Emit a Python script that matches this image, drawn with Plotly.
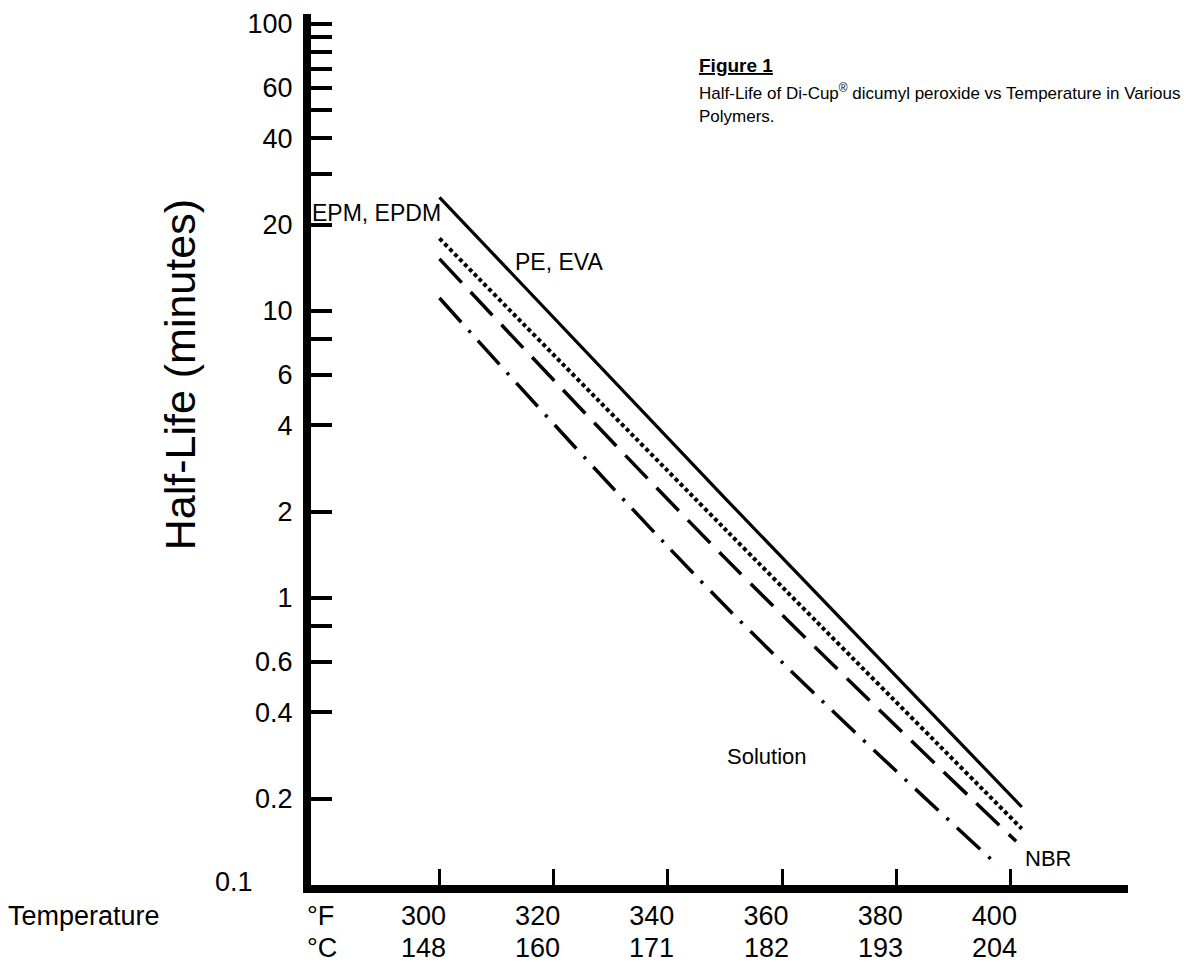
import plotly.graph_objects as go

# ---- data ----
temp_f_ticks = [300, 320, 340, 360, 380, 400]
temp_c_ticks = [148, 160, 171, 182, 193, 204]

y_label_vals = [0.2, 0.4, 0.6, 1, 2, 4, 6, 10, 20, 40, 60, 100]
y_label_text = ["0.2", "0.4", "0.6", "1", "2", "4", "6", "10", "20", "40", "60", "100"]
y_unlabeled_ticks = [0.8, 8, 30, 50, 70, 80, 90]

pe_eva_temp = [300, 350, 402]
pe_eva_life = [24.9, 2.23, 0.187]

epdm_temp = [300, 350, 402]
epdm_life = [17.9, 1.74, 0.157]

nbr_temp = [300, 350, 401]
nbr_life = [15.2, 1.38, 0.142]

solution_temp = [300, 350, 398]
solution_life = [11.1, 0.94, 0.116]

x_range = [277.5, 420.6]
y_range_log = [-1, 2.035]

FONT = "Arial, Liberation Sans, sans-serif"
TICK_SIZE = 27

fig = go.Figure()
line_specs = [
    (pe_eva_temp, pe_eva_life, "solid", 3.2),
    (epdm_temp, epdm_life, "4px,3px", 4),
    (nbr_temp, nbr_life, "32px,13px", 3.5),
    (solution_temp, solution_life, "32px,11px,3px,11px", 3.5),
]
for xs, ys, dash, w in line_specs:
    fig.add_trace(go.Scatter(x=xs, y=ys, mode="lines",
                             line=dict(color="black", width=w, dash=dash, shape="spline",
                                       smoothing=1.0),
                             showlegend=False, hoverinfo="skip"))

fig.update_xaxes(
    range=x_range, showline=True, linewidth=8, linecolor="black",
    ticks="inside", ticklen=16, tickwidth=3, tickcolor="black",
    tickvals=temp_f_ticks, ticktext=[str(f) for f in temp_f_ticks],
    minor=dict(tickvals=[x_range[1]], ticks="inside", ticklen=16, tickwidth=3,
               tickcolor="black", showgrid=False),
    ticklabelshift=-16, ticklabelstandoff=0,
    tickfont=dict(family=FONT, size=TICK_SIZE, color="black"),
    showgrid=False, zeroline=False, automargin=False,
)
fig.update_yaxes(
    type="log", range=y_range_log, showline=True, linewidth=8, linecolor="black",
    ticks="inside", ticklen=21, tickwidth=4, tickcolor="black",
    tickvals=y_label_vals, ticktext=y_label_text, ticklabelstandoff=5,
    minor=dict(tickvals=y_unlabeled_ticks, ticks="inside", ticklen=21, tickwidth=4,
               tickcolor="black", showgrid=False),
    tickfont=dict(family=FONT, size=TICK_SIZE, color="black"),
    showgrid=False, zeroline=False, automargin=False,
)

annotations = [
    dict(text="Half-Life (minutes)", x=-0.16, y=0.5855, xref="paper", yref="paper",
         xanchor="center", yanchor="middle",
         textangle=-90, font=dict(size=43), showarrow=False),
    dict(text="0.1", x=-0.068, y=0.0034, xref="paper", yref="paper", xanchor="right",
         yanchor="middle", font=dict(size=TICK_SIZE), showarrow=False),
    dict(text="Temperature", x=-0.3733, y=-0.0356, xref="paper", yref="paper", xanchor="left",
         yanchor="middle", font=dict(size=TICK_SIZE), showarrow=False),
    dict(text="°F", x=-0.0073, y=-0.0356, xref="paper", yref="paper", xanchor="left",
         yanchor="middle", font=dict(size=TICK_SIZE), showarrow=False),
    dict(text="°C", x=-0.0073, y=-0.0723, xref="paper", yref="paper", xanchor="left",
         yanchor="middle", font=dict(size=TICK_SIZE), showarrow=False),
    dict(text="<b><u>Figure 1</u></b>", x=0.4725, y=0.9403, xref="paper", yref="paper",
         xanchor="left", yanchor="middle", font=dict(size=19), showarrow=False),
    dict(text="Half-Life of Di-Cup<sup>®</sup> dicumyl peroxide vs Temperature in Various",
         x=0.4725, y=0.9105, xref="paper", yref="paper", xanchor="left", yanchor="middle",
         font=dict(size=17), showarrow=False),
    dict(text="Polymers.",
         x=0.4725, y=0.8818, xref="paper", yref="paper", xanchor="left", yanchor="middle",
         font=dict(size=17), showarrow=False),
    dict(text="EPM, EPDM", x=-0.0012, y=0.7716, xref="paper", yref="paper", xanchor="left",
         yanchor="middle", font=dict(size=23), showarrow=False),
    dict(text="PE, EVA", x=0.2472, y=0.7153, xref="paper", yref="paper", xanchor="left",
         yanchor="middle", font=dict(size=23), showarrow=False),
    dict(text="Solution", x=0.5067, y=0.147, xref="paper", yref="paper", xanchor="left",
         yanchor="middle", font=dict(size=22), showarrow=False),
    dict(text="NBR", x=0.8715, y=0.0299, xref="paper", yref="paper", xanchor="left",
         yanchor="middle", font=dict(size=22), showarrow=False),
]
# °C row under the °F tick labels, one per tick
for f, c in zip(temp_f_ticks, temp_c_ticks):
    annotations.append(dict(text=str(c), x=f, xref="x", y=-0.0723, yref="paper",
                            xanchor="center", yanchor="middle", xshift=-16,
                            font=dict(size=TICK_SIZE), showarrow=False))

# the page body adds an 8px margin, so the figure is sized to fill the rest of the window
fig.update_layout(
    width=1185, height=954,
    margin=dict(l=303, r=65, t=6, b=77, autoexpand=False),
    plot_bgcolor="white", paper_bgcolor="white",
    font=dict(family=FONT, color="black"),
    annotations=annotations,
)

fig.write_html("out.html")
